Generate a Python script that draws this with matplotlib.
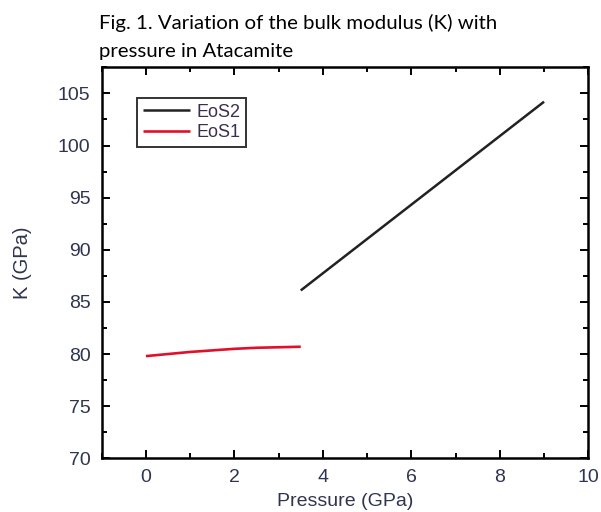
import matplotlib
matplotlib.use("Agg")
import matplotlib.pyplot as plt
from matplotlib.ticker import MultipleLocator

# Data
eos1_p = [0.0, 0.5, 1.0, 1.5, 2.0, 2.5, 3.0, 3.5]
eos1_k = [79.8, 80.0, 80.2, 80.35, 80.5, 80.6, 80.65, 80.7]
eos2_p = [3.5, 9.0]
eos2_k = [86.1, 104.2]
series_labels = ["EoS2", "EoS1"]
title_lines = ["Fig. 1. Variation of the bulk modulus (K) with", "pressure in Atacamite"]
x_label = "Pressure (GPa)"
y_label = "K (GPa)"

txt_color = "#2f3450"
plt.rcParams["font.family"] = ["Liberation Sans", "DejaVu Sans"]

fig = plt.figure(figsize=(6.01, 5.12), dpi=100)
ax = fig.add_axes([101.7 / 601, 1 - 458.3 / 512, (588.3 - 101.7) / 601, (458.3 - 67.3) / 512])

l2, = ax.plot(eos2_p, eos2_k, color="#222222", lw=1.8, solid_capstyle="butt", label=series_labels[0])
l1, = ax.plot(eos1_p, eos1_k, color="#e0102a", lw=1.9, solid_capstyle="butt", label=series_labels[1])

ax.set_xlim(-1, 10)
ax.set_ylim(70, 107.5)
ax.xaxis.set_major_locator(MultipleLocator(2))
ax.xaxis.set_minor_locator(MultipleLocator(1))
ax.yaxis.set_major_locator(MultipleLocator(5))
ax.yaxis.set_minor_locator(MultipleLocator(2.5))
ax.tick_params(which="both", direction="in", top=True, right=True, width=1.4, color="black")
ax.tick_params(which="major", length=6, labelsize=14, labelcolor=txt_color, pad=8)
ax.tick_params(which="minor", length=3.5)
for s in ax.spines.values():
    s.set_linewidth(1.8)

ax.set_xlabel(x_label, fontsize=14, color=txt_color, labelpad=4.5)
ax.set_ylabel(y_label, fontsize=14.5, color=txt_color, labelpad=19)

leg = ax.legend(handles=[l2, l1], loc="upper left", bbox_to_anchor=(0.0732, 0.9207),
                borderaxespad=0, frameon=True, fancybox=False, fontsize=13,
                handlelength=2.6, handletextpad=0.4, borderpad=0.3, labelspacing=0.2)
leg.get_frame().set_edgecolor("black")
leg.get_frame().set_linewidth(1.4)
for t in leg.get_texts():
    t.set_color("#3b2f4f")

fig.text(99.3 / 601, 1 - 29.3 / 512, title_lines[0], fontsize=14.7, family="Lato",
         va="baseline", ha="left", color="black")
fig.text(99.3 / 601, 1 - 56.5 / 512, title_lines[1], fontsize=14.7, family="Lato",
         va="baseline", ha="left", color="black")

fig.savefig("out.png", dpi=100)
